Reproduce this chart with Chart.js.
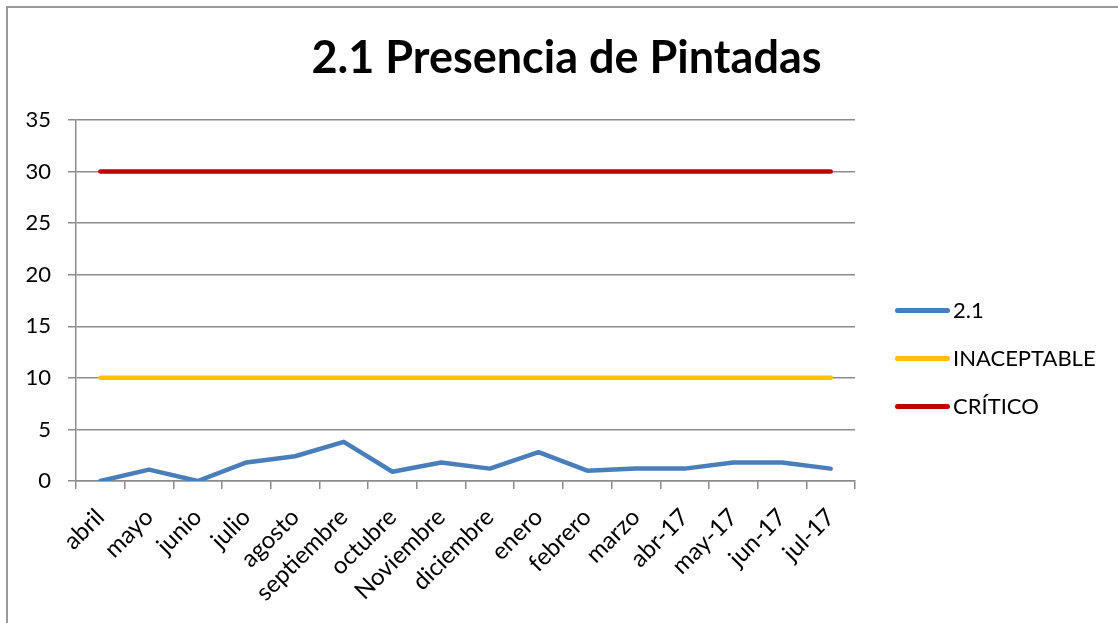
<!DOCTYPE html>
<html>
<head>
<meta charset="utf-8">
<script src="https://cdn.jsdelivr.net/npm/chart.js@4/dist/chart.umd.min.js"></script>
<style>
    body { margin: 0; background: #fff; width: 1118px; height: 623px; overflow: hidden; position: relative; font-family: Lato, sans-serif; }
    #frame { position: absolute; left: 6px; top: 6px; width: 1130px; height: 640px; border-left: 2px solid #9a9a9a; border-top: 2px solid #9a9a9a; }
    #wrap { position: absolute; left: 0; top: 0; width: 1118px; height: 623px; }
    #title { position: absolute; left: 0; width: 1133px; top: 34px; text-align: center; font-weight: bold; font-size: 45px; line-height: 44px; color: #000; margin: 0; }
    #legend { position: absolute; left: 895px; top: 286px; }
    .item { display: flex; align-items: center; height: 48px; font-size: 22px; line-height: 22px; color: #000; }
    .swatch { width: 55px; height: 5px; border-radius: 3px; margin-right: 3px; }
</style>
</head>
<body>
<div id="frame"></div>
<div id="wrap"><canvas id="chart" width="1118" height="623"></canvas></div>
<h1 id="title">2.1 Presencia de Pintadas</h1>
<div id="legend"></div>
<script>
const labels = ["abril", "mayo", "junio", "julio", "agosto", "septiembre", "octubre", "Noviembre", "diciembre", "enero", "febrero", "marzo", "abr-17", "may-17", "jun-17", "jul-17"];
const serie21 = [0, 1.1, 0, 1.8, 2.4, 3.8, 0.9, 1.8, 1.2, 2.8, 1.0, 1.2, 1.2, 1.8, 1.8, 1.2];
const inaceptable = [10, 10, 10, 10, 10, 10, 10, 10, 10, 10, 10, 10, 10, 10, 10, 10];
const critico = [30, 30, 30, 30, 30, 30, 30, 30, 30, 30, 30, 30, 30, 30, 30, 30];
const seriesNames = ["2.1", "INACEPTABLE", "CRÍTICO"];
const seriesColors = ["#4a7ebb", "#ffc000", "#c00000"];
const yMin = 0, yMax = 35, yStep = 5;

const gridColor = "#8c8c8c";
const font = { family: "Lato, sans-serif", size: 22 };

function lineDataset(i, data) {
    return {
        label: seriesNames[i],
        data,
        borderColor: seriesColors[i],
        backgroundColor: seriesColors[i],
        borderWidth: 4.5,
        pointRadius: 0,
        tension: 0,
        borderCapStyle: "round",
        borderJoinStyle: "round",
    };
}

new Chart(document.getElementById("chart"), {
    type: "line",
    data: {
        labels,
        datasets: [lineDataset(0, serie21), lineDataset(1, inaceptable), lineDataset(2, critico)],
    },
    options: {
        responsive: false,
        animation: false,
        layout: { padding: { top: 120, right: 263, left: 0, bottom: 0 } },
        plugins: { legend: { display: false }, title: { display: false }, tooltip: { enabled: false } },
        scales: {
            x: {
                offset: true,
                grid: { offset: true, drawOnChartArea: false, drawTicks: true, tickLength: 8, color: gridColor, lineWidth: 1.5 },
                border: { display: true, color: gridColor, width: 1.5 },
                ticks: { minRotation: 45, maxRotation: 45, autoSkip: false, color: "#000", font: { ...font, size: 24 }, padding: 14 },
                afterFit: (s) => { s.height = 142; },
            },
            y: {
                min: yMin,
                max: yMax,
                grid: { color: gridColor, lineWidth: 1.5, tickLength: 8 },
                border: { display: true, color: gridColor, width: 1.5 },
                ticks: { stepSize: yStep, color: "#000", font, padding: 17 },
                afterFit: (s) => { s.width = 76; },
            },
        },
    },
});

document.getElementById("legend").innerHTML = seriesNames
    .map((n, i) => `<div class="item"><span class="swatch" style="background:${seriesColors[i]}"></span>${n}</div>`)
    .join("");
</script>
</body>
</html>
